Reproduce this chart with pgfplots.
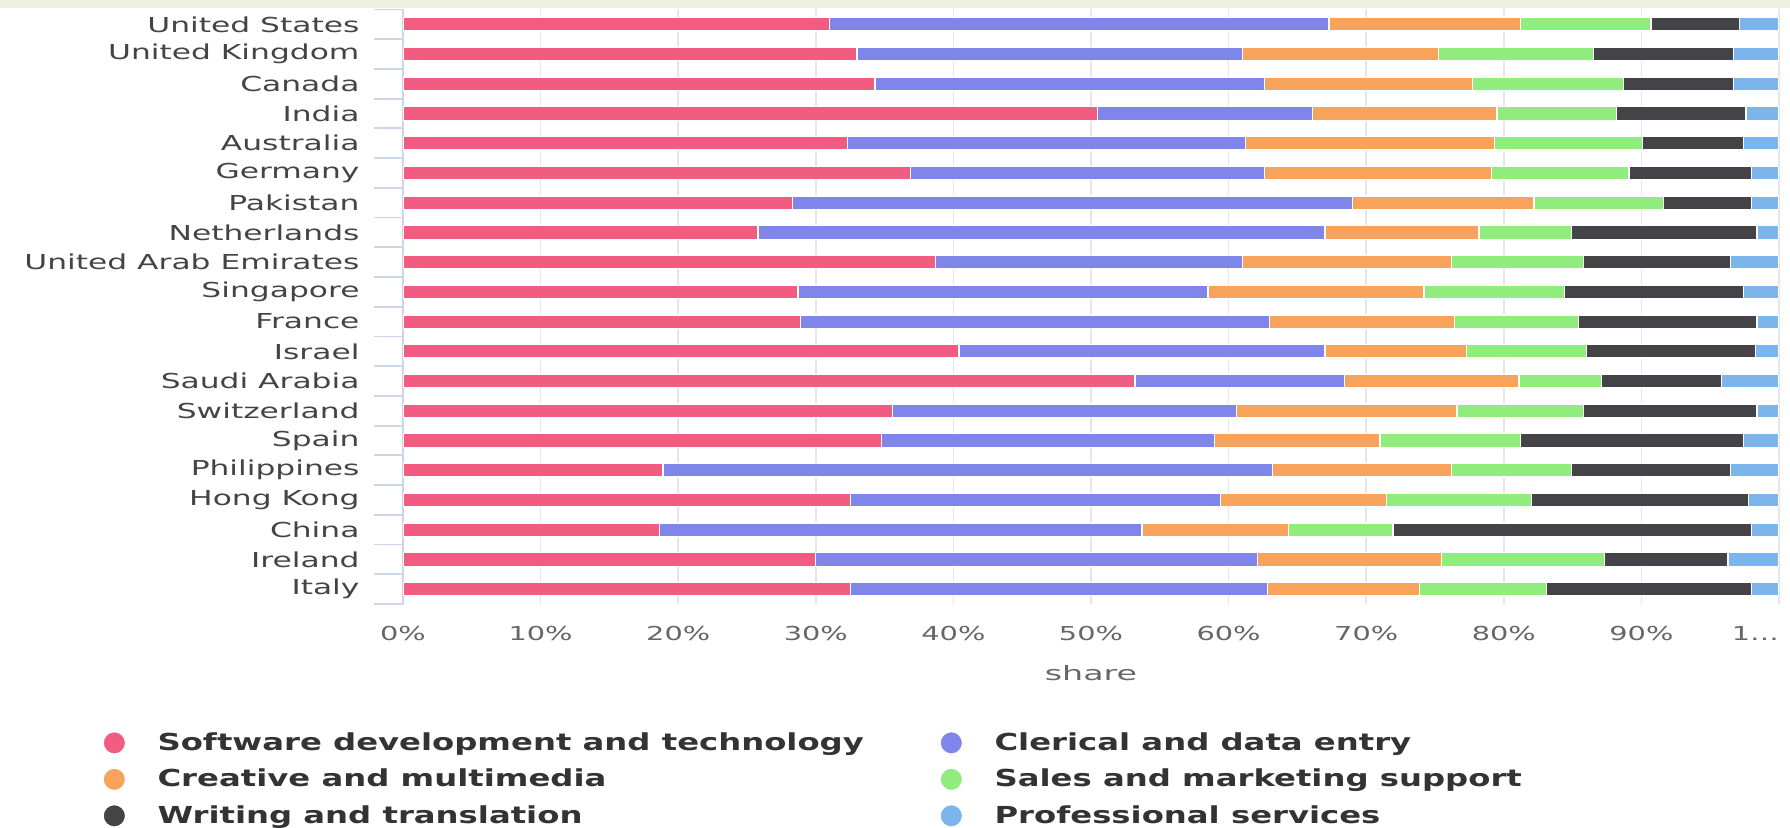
\documentclass[border=0pt]{standalone}
\usepackage{pgfplots}
\pgfplotsset{compat=1.18}
\usepackage{pgfplotstable}
\usepackage{fontspec}
\setmainfont{DejaVu Sans}[FakeStretch=1.5]
\newfontfamily\catfont{DejaVu Sans}[FakeStretch=1.52]
\newfontfamily\legfont{DejaVu Sans}[FakeStretch=1.38]
\newfontfamily\tickfont{DejaVu Sans}[FakeStretch=1.5]
\newfontfamily\labfont{DejaVu Sans}[FakeStretch=1.68]
\definecolor{c1}{HTML}{F15C80}
\definecolor{c2}{HTML}{8085E9}
\definecolor{c3}{HTML}{F7A35C}
\definecolor{c4}{HTML}{90ED7D}
\definecolor{c5}{HTML}{434348}
\definecolor{c6}{HTML}{7CB5EC}
\definecolor{axiscol}{HTML}{CCD6EB}
\definecolor{gridcol}{HTML}{E6E6E6}
\definecolor{catcol}{HTML}{444444}
\definecolor{tickcol}{HTML}{666666}
\definecolor{legcol}{HTML}{333333}
\definecolor{topcol}{HTML}{EEF1E2}
\pgfplotstableread{
idx sw cl cr sa wr pr
0 31.0 36.3 13.9 9.5 6.4 2.9
1 33.0 28.0 14.25 11.25 10.2 3.3
2 34.3 28.3 15.1 11.0 8.0 3.3
3 50.5 15.6 13.4 8.7 9.4 2.4
4 32.3 28.9 18.1 10.8 7.3 2.6
5 36.9 25.7 16.5 10.0 8.9 2.0
6 28.3 40.7 13.2 9.4 6.4 2.0
7 25.8 41.2 11.2 6.7 13.5 1.6
8 38.7 22.3 15.2 9.6 10.7 3.5
9 28.7 29.8 15.7 10.2 13.0 2.6
10 28.9 34.1 13.4 9.0 13.0 1.6
11 40.4 26.6 10.3 8.7 12.3 1.7
12 53.2 15.2 12.7 6.0 8.7 4.2
13 35.6 25.0 16.0 9.2 12.6 1.6
14 34.75 24.25 12.0 10.2 16.2 2.6
15 18.9 44.3 13.0 8.7 11.6 3.5
16 32.5 26.9 12.1 10.5 15.8 2.2
17 18.65 35.05 10.65 7.6 26.05 2.0
18 30.0 32.1 13.4 11.8 9.0 3.7
19 32.5 30.3 11.1 9.2 14.9 2.0
}\data
\begin{document}
\begin{tikzpicture}
\path[use as bounding box] (0,0) rectangle (895pt,414pt);
\fill[topcol] (0,410pt) rectangle (895pt,414pt);
\begin{axis}[
  at={(201.5pt,112pt)}, anchor=south west,
  scale only axis, width=688pt, height=297.25pt,
  xbar stacked, bar width=6.7pt,
  legend image code/.code={\fill[#1] (0pt,0pt) circle (5.6pt); \path (5.6pt,0pt) -- (19.3pt,0pt);},
  xmin=0, xmax=100, ymin=-0.5, ymax=19.5, y dir=reverse,
  axis x line*=bottom, axis y line*=left,
  x axis line style={draw=none},
  y axis line style={draw=axiscol, line width=0.8pt},
  xtick={0,10,...,100},
  xticklabels={0\%,10\%,20\%,30\%,40\%,50\%,60\%,70\%,80\%,90\%,\makebox[0pt][r]{1\ldots}},
  xtick style={draw=none},
  xmajorgrids, major x grid style={gridcol, line width=0.8pt},
  ytick={0,...,19},
  yticklabels={United States,United Kingdom,Canada,India,Australia,Germany,Pakistan,Netherlands,United Arab Emirates,Singapore,France,Israel,Saudi Arabia,Switzerland,Spain,Philippines,Hong Kong,China,Ireland,Italy},
  major y tick style={draw=none},
  minor ytick={-0.5,0.5,...,19.5},
  minor y tick style={draw=axiscol, line width=0.9pt},
  minor tick length=14.5pt, tick align=outside,
  /pgf/number format/assume math mode=true,
  yticklabel style={font=\catfont\fontsize{10.3}{12}\selectfont, text=catcol, inner sep=0pt, anchor=east, xshift=-17.3pt},
  xticklabel style={font=\tickfont\fontsize{9.6}{11}\selectfont, text=tickcol, inner sep=0pt, anchor=center, yshift=-10.6pt},
  xlabel={share},
  xlabel style={font=\labfont\fontsize{9.9}{12}\selectfont, text=tickcol, at={(axis description cs:0.5,0)}, anchor=center, yshift=-34.5pt},
  legend columns=2,
  legend cell align=left,
  legend style={at={(-0.223,-0.202)}, anchor=north west, draw=none, fill=none,
    font=\legfont\bfseries\fontsize{11.7}{14}\selectfont, text=legcol, row sep=3.85pt},
  every axis plot/.append style={draw=white, line width=0.6pt},
]
\addplot[fill=c1] table[x=sw, y=idx]{\data};
\addlegendentry{\makebox[389pt][l]{Software development and technology}}
\addplot[fill=c2] table[x=cl, y=idx]{\data};
\addlegendentry{Clerical and data entry}
\addplot[fill=c3] table[x=cr, y=idx]{\data};
\addlegendentry{\makebox[389pt][l]{Creative and multimedia}}
\addplot[fill=c4] table[x=sa, y=idx]{\data};
\addlegendentry{Sales and marketing support}
\addplot[fill=c5] table[x=wr, y=idx]{\data};
\addlegendentry{\makebox[389pt][l]{Writing and translation}}
\addplot[fill=c6] table[x=pr, y=idx]{\data};
\addlegendentry{Professional services}
\end{axis}
\end{tikzpicture}
\end{document}
